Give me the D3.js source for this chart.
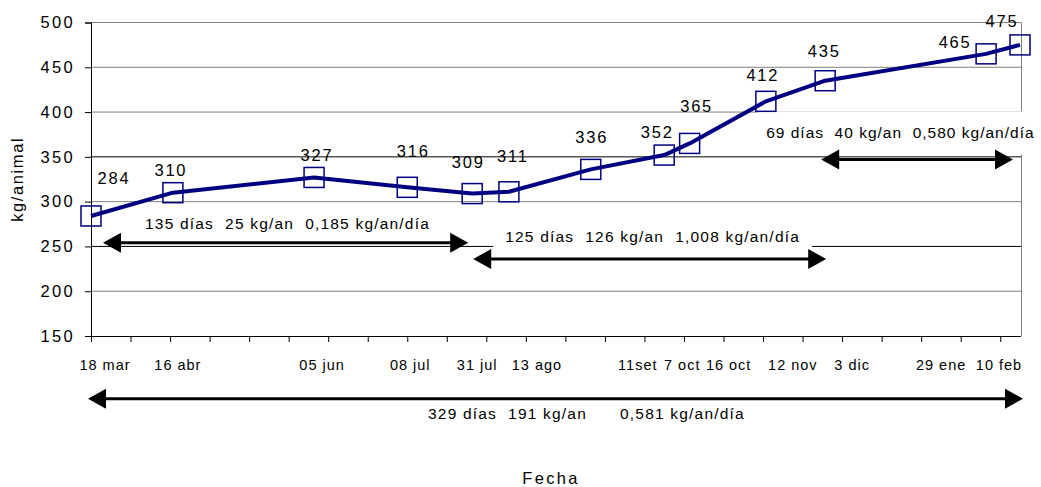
<!DOCTYPE html>
<html>
<head>
<meta charset="utf-8">
<script src="https://cdn.jsdelivr.net/npm/d3@7"></script>
<style>
  body { margin: 0; background: #fff; }
  text { font-family: "Liberation Sans", Arial, sans-serif; fill: #000; white-space: pre; }
</style>
</head>
<body>
<div id="chart"></div>
<script>
// weighing dates and average live weight (kg/animal)
const dates = ["2002-03-18", "2002-04-16", "2002-06-05", "2002-07-08", "2002-07-31", "2002-08-13",
               "2002-09-11", "2002-10-07", "2002-10-16", "2002-11-12", "2002-12-03", "2003-01-29", "2003-02-10"];
const weights = [284, 310, 327, 316, 309, 311, 336, 352, 365, 412, 435, 465, 475];
const dateLabels = ["18 mar", "16 abr", "05 jun", "08 jul", "31 jul", "13 ago", "11set",
                    "7 oct", "16 oct", "12 nov", "3 dic", "29 ene", "10 feb"];
const yTicks = [150, 200, 250, 300, 350, 400, 450, 500];

// periods marked with arrows
const periodStart = ["2002-03-18", "2002-07-31", "2002-12-03", "2002-03-18"];
const periodEnd   = ["2002-07-31", "2002-12-03", "2003-02-10", "2003-02-10"];
const periodText  = ["135 días  25 kg/an  0,185 kg/an/día",
                     "125 días  126 kg/an  1,008 kg/an/día",
                     "69 días  40 kg/an  0,580 kg/an/día",
                     "329 días  191 kg/an      0,581 kg/an/día"];

// layout (hand placed like the original)
const W = 1041, H = 487;
const plot = {left: 91, right: 1020, top: 22.5, bottom: 336};
const labelNudge = [14, 5, 8, 3, 5, 28, 47, 18, 39, 27, 27, -45, -21];
const pointLabelShift = [[23, -32], [-2, -17], [3, -16], [6, -30], [-4, -26], [4, -30], [1, -26],
                         [-7, -17], [7, -31], [-3, -20], [-1, -24], [-31, -6], [-18, -18]];
const arrowLevel = [254, 236, 347, 80];           // in kg units
const arrowInset = [[12, -4], [1, 1], [-4, -7], [-3, 3]];
const textOffset = [[42, -14], [32, -16.5], [-55, -22], [340, 20]];
const boxPad = [[0, 0, 0], [12, 3, 6], [9, 12, 14], [0, 0, 0]];  // x, top, bottom

const parse = d3.utcParse("%Y-%m-%d");
const pts = dates.map((d, i) => ({date: parse(d), w: weights[i]}));

const x = d3.scaleUtc()
    .domain([parse(dates[0]), parse(dates[dates.length - 1])])
    .range([plot.left, plot.right]);
const y = d3.scaleLinear()
    .domain([150, 500])
    .range([plot.bottom, plot.top]);

const svg = d3.select("#chart").append("svg")
    .attr("width", W)
    .attr("height", H);

// gridlines
svg.append("g")
    .selectAll("line")
    .data(yTicks.slice(1))
    .enter().append("line")
    .attr("x1", plot.left)
    .attr("x2", plot.right + 1)
    .attr("y1", d => y(d))
    .attr("y2", d => y(d))
    .attr("stroke", d => (d === 250 || d === 350) ? "#000" : "#808080")
    .attr("stroke-width", 1);

// right border of the plot area
svg.append("line")
    .attr("x1", plot.right + 1.5).attr("x2", plot.right + 1.5)
    .attr("y1", plot.top).attr("y2", plot.bottom)
    .attr("stroke", "#808080");

// text boxes (white background hides the lines below)
const notes = svg.append("g");
periodText.forEach((t, i) => {
    const x0 = x(parse(periodStart[i])) + arrowInset[i][0];
    const yl = y(arrowLevel[i]);
    const g = notes.append("g");
    const txt = g.append("text")
        .attr("x", x0 + textOffset[i][0])
        .attr("y", yl + textOffset[i][1])
        .style("font-size", "15.5px")
        .style("letter-spacing", i === 2 ? "1px" : "1.2px")
        .text(t);
    const b = txt.node().getBBox();
    if (boxPad[i][0] > 0) {
        g.insert("rect", "text")
            .attr("x", b.x - boxPad[i][0])
            .attr("y", b.y - boxPad[i][1])
            .attr("width", b.width + 2 * boxPad[i][0])
            .attr("height", b.height + boxPad[i][1] + boxPad[i][2])
            .attr("fill", "#fff");
    }
});

// axes
const yAxis = svg.append("g")
    .attr("transform", `translate(${plot.left},0)`)
    .call(d3.axisLeft(y).tickValues(yTicks).tickSize(6).tickPadding(10));
yAxis.selectAll("text")
    .style("font-size", "16.5px")
    .style("letter-spacing", "2.3px")
    .style("font-family", "Liberation Sans, Arial, sans-serif");

const tickDates = d3.utcDay.range(x.domain()[0], x.domain()[1], 14);
const xAxis = svg.append("g")
    .attr("transform", `translate(0,${plot.bottom})`)
    .call(d3.axisBottom(x).tickValues(tickDates).tickSize(6).tickFormat(""));
xAxis.select(".domain").attr("d", `M${plot.left},0.5H${plot.right + 1}`);
svg.selectAll(".domain, .tick line").attr("stroke", "#000");

svg.append("g")
    .selectAll("text")
    .data(pts)
    .enter().append("text")
    .attr("x", (d, i) => x(d.date) + labelNudge[i])
    .attr("y", plot.bottom + 34)
    .attr("text-anchor", "middle")
    .style("font-size", "14.5px")
    .style("letter-spacing", "1px")
    .text((d, i) => dateLabels[i]);

// series
const line = d3.line()
    .x(d => x(d.date))
    .y(d => y(d.w));

svg.append("path")
    .datum(pts)
    .attr("fill", "none")
    .attr("stroke", "#000080")
    .attr("stroke-width", 4)
    .attr("stroke-linejoin", "round")
    .attr("d", line);

svg.append("g")
    .selectAll("rect")
    .data(pts)
    .enter().append("rect")
    .attr("x", d => x(d.date) - 10)
    .attr("y", d => y(d.w) - 10)
    .attr("width", 20)
    .attr("height", 20)
    .attr("fill", "none")
    .attr("stroke", "#000080")
    .attr("stroke-width", 1.5);

svg.append("g")
    .selectAll("text")
    .data(pts)
    .enter().append("text")
    .attr("x", (d, i) => x(d.date) + pointLabelShift[i][0])
    .attr("y", (d, i) => y(d.w) + pointLabelShift[i][1])
    .attr("text-anchor", "middle")
    .style("font-size", "16.5px")
    .style("letter-spacing", "1.8px")
    .text(d => d.w);

// arrows
const arrows = svg.append("g");
periodStart.forEach((s, i) => {
    const x1 = x(parse(s)) + arrowInset[i][0];
    const x2 = x(parse(periodEnd[i])) + arrowInset[i][1];
    const yl = y(arrowLevel[i]);
    arrows.append("line")
        .attr("x1", x1 + 10).attr("x2", x2 - 10)
        .attr("y1", yl).attr("y2", yl)
        .attr("stroke", "#000")
        .attr("stroke-width", 3);
    arrows.append("path")
        .attr("d", `M${x1},${yl}L${x1 + 18},${yl - 10}L${x1 + 18},${yl + 10}Z`)
        .attr("fill", "#000");
    arrows.append("path")
        .attr("d", `M${x2},${yl}L${x2 - 18},${yl - 10}L${x2 - 18},${yl + 10}Z`)
        .attr("fill", "#000");
});

// axis titles
svg.append("text")
    .attr("transform", `translate(23,${(plot.top + plot.bottom) / 2}) rotate(-90)`)
    .attr("text-anchor", "middle")
    .style("font-size", "16.5px")
    .style("letter-spacing", "1.6px")
    .text("kg/animal");

svg.append("text")
    .attr("x", 551)
    .attr("y", H - 3)
    .attr("text-anchor", "middle")
    .style("font-size", "16.5px")
    .style("letter-spacing", "2.3px")
    .text("Fecha");
</script>
</body>
</html>
